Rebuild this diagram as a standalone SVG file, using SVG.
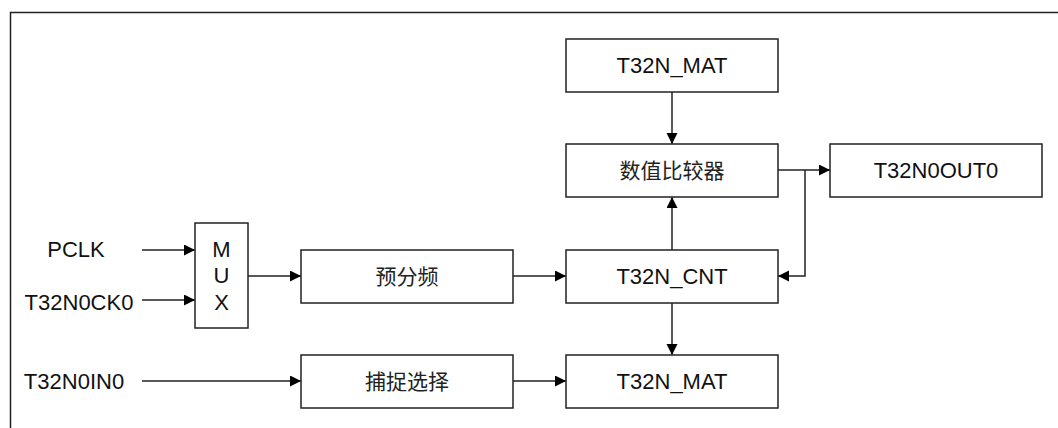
<svg xmlns="http://www.w3.org/2000/svg" width="1058" height="428" viewBox="0 0 1058 428">
<defs>
<marker id="arr" markerWidth="12" markerHeight="12" refX="11" refY="5.5" orient="auto" markerUnits="userSpaceOnUse">
<path d="M0,0 L11,5.5 L0,11 Z" fill="#000"/>
</marker>
<style>
.box{fill:#fff;stroke:#222;stroke-width:1.5}
.t{font-family:"Liberation Sans",Arial,"Noto Sans CJK SC",sans-serif;font-size:22px;fill:#111;text-anchor:middle}
.c{font-family:"Liberation Sans","Noto Sans CJK SC",sans-serif;font-size:21px;fill:#222;text-anchor:middle}
.w{fill:none;stroke:#222;stroke-width:1.5}
.a{fill:none;stroke:#222;stroke-width:1.5;marker-end:url(#arr)}
</style>
</defs>
<rect width="1058" height="428" fill="#fff"/>
<path d="M10.5,428 V12.5 H1058" fill="none" stroke="#222" stroke-width="1.5"/>

<g id="connectors">
<line class="a" x1="142" y1="250" x2="195" y2="250"/>
<line class="a" x1="142" y1="300" x2="195" y2="300"/>
<line class="a" x1="248" y1="276" x2="301" y2="276"/>
<line class="a" x1="513" y1="276" x2="566" y2="276"/>
<line class="a" x1="142" y1="381" x2="301" y2="381"/>
<line class="a" x1="513" y1="381" x2="566" y2="381"/>
<line class="a" x1="672" y1="92" x2="672" y2="144"/>
<line class="a" x1="672" y1="250" x2="672" y2="197"/>
<line class="a" x1="672" y1="303" x2="672" y2="355"/>
<line class="a" x1="778" y1="170" x2="830" y2="170"/>
<path class="a" d="M805,170 V276 H778"/>
</g>

<g id="pclk"><text class="t" x="76" y="257">PCLK</text></g>
<g id="t32n0ck0"><text class="t" x="79" y="310">T32N0CK0</text></g>
<g id="t32n0in0"><text class="t" x="74" y="389">T32N0IN0</text></g>

<g id="mux">
<rect class="box" x="195" y="223" width="53" height="105"/>
<text class="t" x="221.5" y="257">M</text>
<text class="t" x="221.5" y="283">U</text>
<text class="t" x="221.5" y="310">X</text>
</g>

<g id="prescaler">
<rect class="box" x="301" y="250" width="212" height="53"/>
<text class="c" x="407" y="284">预分频</text>
</g>

<g id="capture">
<rect class="box" x="301" y="355" width="212" height="53"/>
<text class="c" x="407" y="389">捕捉选择</text>
</g>

<g id="mat_top">
<rect class="box" x="566" y="39" width="212" height="53"/>
<text class="t" x="672" y="72.5">T32N_MAT</text>
</g>

<g id="comparator">
<rect class="box" x="566" y="144" width="212" height="53"/>
<text class="c" x="672" y="178">数值比较器</text>
</g>

<g id="cnt">
<rect class="box" x="566" y="250" width="212" height="53"/>
<text class="t" x="672" y="284">T32N_CNT</text>
</g>

<g id="mat_bottom">
<rect class="box" x="566" y="355" width="212" height="53"/>
<text class="t" x="672" y="389">T32N_MAT</text>
</g>

<g id="out">
<rect class="box" x="830" y="144" width="212" height="53"/>
<text class="t" x="936" y="178">T32N0OUT0</text>
</g>
</svg>
